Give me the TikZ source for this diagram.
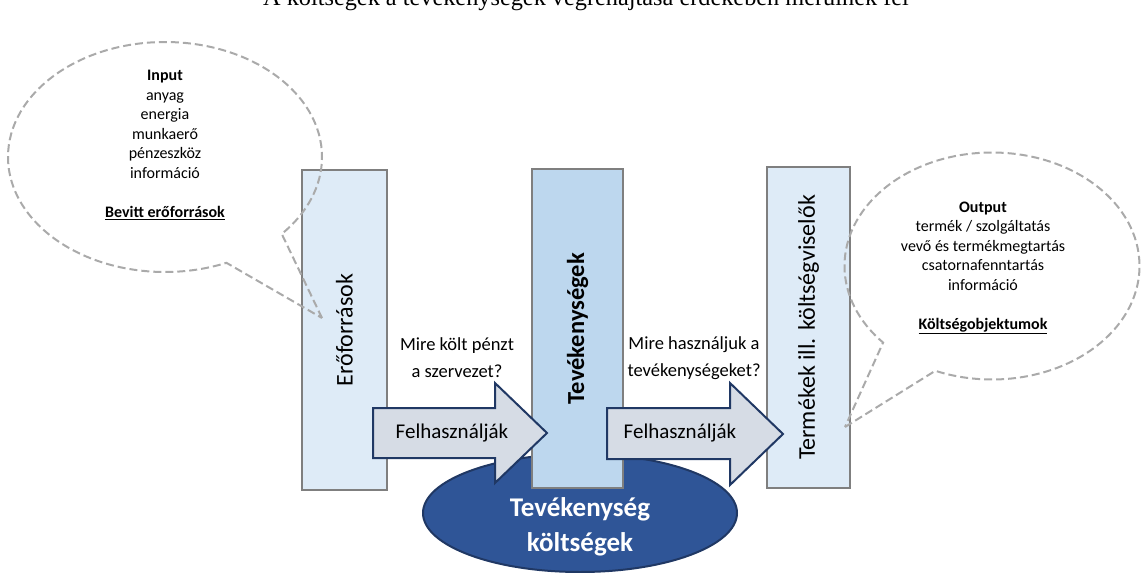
\documentclass[tikz,border=0pt]{standalone}
\usepackage{fontspec}
\setmainfont{Carlito}
\newfontfamily\titlefont{Liberation Serif}
\usetikzlibrary{shapes.geometric,shapes.callouts}
\definecolor{boxgray}{RGB}{127,127,127}
\definecolor{paleblue}{RGB}{222,235,247}
\definecolor{midblue}{RGB}{189,215,238}
\definecolor{arrowfill}{RGB}{214,220,229}
\definecolor{navy}{RGB}{32,56,100}
\definecolor{costblue}{RGB}{47,85,151}
\definecolor{dashgray}{RGB}{170,170,170}
\tikzset{
  stagebox/.style={draw=boxgray, line width=2.5pt, rotate=90, inner sep=0pt},
  usearrow/.style={draw=navy, fill=arrowfill, line width=2pt, line join=miter},
  uselabel/.style={font=\fontsize{21}{25}\selectfont},
  question/.style={align=center, font=\fontsize{18.5}{27}\selectfont},
  bubble/.style={ellipse callout, draw=dashgray, dash pattern=on 8pt off 4pt,
    line width=2pt, callout pointer arc=25},
  bubbletext/.style={align=center, font=\fontsize{16}{19.5}\selectfont},
}
\begin{document}
\begin{tikzpicture}[x=1pt,y=-1pt]
\useasboundingbox (0,0) rectangle (1141,573);
% title, cut by the page edge
\node[anchor=base, font=\titlefont\fontsize{24.3}{28}\selectfont] (title) at (586,5.5)
  {A költségek a tevékenységek végrehajtása érdekében merülnek fel};
% cost ellipse behind
\node[ellipse, draw=navy, fill=costblue, line width=2pt, minimum width=314pt,
  minimum height=118pt] (cost) at (580,513) {};
% the three stages
\node[stagebox, fill=paleblue, minimum width=320pt, minimum height=85pt,
  font=\fontsize{24}{28}\selectfont] (resources) at (344.5,330) {Erőforrások};
\node[stagebox, fill=midblue, minimum width=319pt, minimum height=91pt,
  font=\fontsize{24.5}{28}\selectfont\bfseries] (activities) at (577.5,328.5) {Tevékenységek};
\node[stagebox, fill=paleblue, minimum width=321pt, minimum height=83pt,
  font=\fontsize{24}{28}\selectfont] (products) at (808.5,327.5) {Termékek ill. költségviselők};
\node[font=\fontsize{27}{35}\selectfont\bfseries, text=white, align=center]
  (costtext) at ([yshift=-14pt]cost.center) {Tevékenység\\költségek};
% block arrows
\draw[usearrow] (373,408) -- (495,408) -- (495,383) -- (547,433)
  -- (495,483) -- (495,458) -- (373,458) -- cycle;
\draw[usearrow] (607,408) -- (730,408) -- (730,383) -- (783,434)
  -- (730,485) -- (730,459) -- (607,459) -- cycle;
\node[uselabel] (use1) at (452,433) {Felhasználják};
\node[uselabel] (use2) at (680,433) {Felhasználják};
\node[question] (q1) at (457,358) {Mire költ pénzt\\a szervezet?};
\node[question] (q2) at (694,358) {Mire használjuk a\\tevékenységeket?};
% callouts
\node[bubble, minimum width=314pt, minimum height=230pt,
  callout absolute pointer={(322,318)}] (inbubble) at (165,157) {};
\node[bubbletext] (intext) at (165,145)
  {\textbf{Input}\\anyag\\energia\\munkaerő\\pénzeszköz\\információ\\[19.5pt]
   \textbf{\underline{Bevitt erőforrások}}};
\node[bubble, minimum width=295pt, minimum height=227pt,
  callout absolute pointer={(845,427)}] (outbubble) at (992,266) {};
\node[bubbletext] (outtext) at (983,268)
  {\textbf{Output}\\termék / szolgáltatás\\vevő és termékmegtartás\\csatornafenntartás\\információ\\[19.5pt]
   \textbf{\underline{Költségobjektumok}}};
\end{tikzpicture}
\end{document}
